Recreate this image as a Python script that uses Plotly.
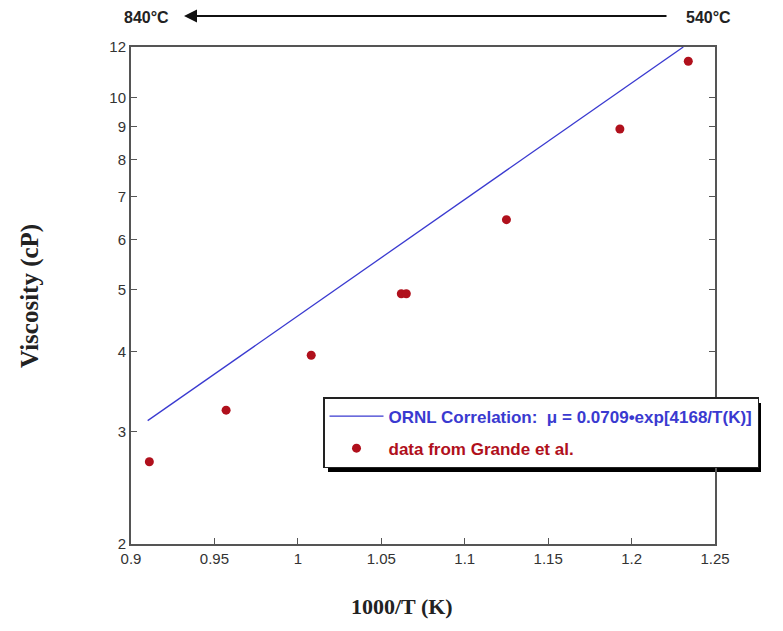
import plotly.graph_objects as go

# Data
inv_T_data = [0.911, 0.957, 1.008, 1.062, 1.065, 1.125, 1.193, 1.234]
visc_data = [2.69, 3.24, 3.95, 4.93, 4.93, 6.44, 8.93, 11.4]

# ORNL correlation line endpoints (straight on log scale)
inv_T_corr = [0.910, 1.231]
visc_corr = [3.12, 12.0]

x_ticks = [0.9, 0.95, 1.0, 1.05, 1.1, 1.15, 1.2, 1.25]
x_ticklabels = ["0.9", "0.95", "1", "1.05", "1.1", "1.15", "1.2", "1.25"]
y_ticks = [2, 3, 4, 5, 6, 7, 8, 9, 10, 12]
y_ticklabels = [str(v) for v in y_ticks]

# screen-pixel helpers (plot area spans x 131..715, y 47..544 on screen)
PL, PR, PT, PB = 131, 715, 47, 544
def px(xs):
    return (xs - PL) / (PR - PL)
def py(ys):
    return (PB - ys) / (PB - PT)

BLUE = "#3a3ad0"
RED = "#b0101c"

fig = go.Figure()
fig.add_trace(go.Scatter(
    x=inv_T_corr, y=visc_corr, mode="lines",
    line=dict(color=BLUE, width=1.3),
    name=f"<span style='color:{BLUE}'><b>ORNL Correlation:  μ = 0.0709•exp[4168/T(K)]</b></span>",
    legendgroup="a"))
fig.add_trace(go.Scatter(
    x=inv_T_data, y=visc_data, mode="markers",
    marker=dict(color=RED, size=9),
    name=f"<span style='color:{RED}'><b>data from Grande et al.</b></span>",
    legendgroup="b"))

axis_common = dict(
    showgrid=False, zeroline=False, showline=True, linecolor="#555555",
    linewidth=2, ticks="inside", ticklen=6, tickwidth=1.3, tickcolor="#555555",
    tickfont=dict(family="Liberation Sans, Arial", size=15, color="#333333"),
)
fig.update_xaxes(range=[0.9, 1.25], tickvals=x_ticks, ticktext=x_ticklabels,
                 mirror=True, **axis_common)
fig.update_yaxes(type="log", range=[0.30103, 1.07918], tickvals=y_ticks,
                 ticktext=y_ticklabels, mirror="ticks", **axis_common)

# Legend shadow
fig.add_shape(type="rect", xref="paper", yref="paper",
              x0=px(328), x1=px(761), y0=py(472), y1=py(403),
              fillcolor="black", line=dict(width=0), layer="below")

fig.update_layout(
    width=783, height=631,
    margin=dict(l=123, r=76, t=39, b=95),
    plot_bgcolor="white", paper_bgcolor="white",
    showlegend=True,
    legend=dict(
        x=px(323), y=py(397), xanchor="left", yanchor="top",
        bgcolor="white", bordercolor="#222222", borderwidth=1.5,
        font=dict(family="Liberation Sans, Arial", size=17, color=BLUE),
        tracegroupgap=7, traceorder="grouped", itemwidth=54,
    ),
    annotations=[
        dict(text="<b>Viscosity (cP)</b>", xref="paper", yref="paper",
             x=px(30), y=py(296), textangle=-90,
             showarrow=False, xanchor="center", yanchor="middle",
             font=dict(family="Liberation Serif, Times New Roman", size=25, color="#222222")),
        dict(text="<b>1000/T (K)</b>", xref="paper", yref="paper",
             x=px(402), y=py(606),
             showarrow=False, xanchor="center", yanchor="middle",
             font=dict(family="Liberation Serif, Times New Roman", size=22, color="#222222")),
        dict(text="<b>840°C</b>", xref="paper", yref="paper",
             x=px(146), y=py(18),
             showarrow=False, xanchor="center", yanchor="middle",
             font=dict(family="Liberation Sans Narrow, Liberation Sans", size=16, color="#222222")),
        dict(text="<b>540°C</b>", xref="paper", yref="paper",
             x=px(708), y=py(18),
             showarrow=False, xanchor="center", yanchor="middle",
             font=dict(family="Liberation Sans Narrow, Liberation Sans", size=16, color="#222222")),
        dict(text="", xref="paper", yref="paper",
             x=px(184), y=py(16),
             ax=668 - 184, ay=0, showarrow=True, arrowhead=2, arrowsize=1.3,
             arrowwidth=2, arrowcolor="#111111"),
    ],
)

fig.write_html("out.html")
